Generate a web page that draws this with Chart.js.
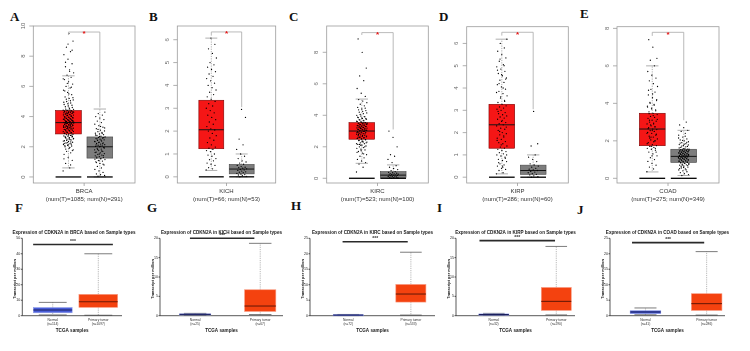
<!DOCTYPE html>
<html>
<head>
<meta charset="utf-8">
<script src="https://cdn.jsdelivr.net/npm/chart.js@4.4.0/dist/chart.umd.min.js"></script>
<style>
body{margin:0;background:#fff;width:750px;height:351px;overflow:hidden;position:relative}
canvas{position:absolute}
.lt{position:absolute;font:bold 13px "Liberation Serif","Times New Roman",serif;line-height:13px;color:#111}
</style>
</head>
<body>
<div class="lt" style="left:10px;top:10px">A</div>
<div class="lt" style="left:149px;top:10px">B</div>
<div class="lt" style="left:289px;top:10px">C</div>
<div class="lt" style="left:439px;top:10px">D</div>
<div class="lt" style="left:580px;top:7px">E</div>
<div class="lt" style="left:15px;top:201px">F</div>
<div class="lt" style="left:147px;top:201px">G</div>
<div class="lt" style="left:291px;top:199px">H</div>
<div class="lt" style="left:437px;top:201px">I</div>
<div class="lt" style="left:577px;top:203px">J</div>
<script>
// ---- top row (GEPIA) ----
const topCancers = ["BRCA", "KICH", "KIRC", "KIRP", "COAD"];
const numT = [1085, 66, 523, 286, 275];
const numN = [291, 53, 100, 60, 349];
const topTicks = [[0,2,4,6,8,10], [0,1,2,3,4,5,6], [0,2,4,6,8], [0,1,2,3,4,5,6], [0,2,4,6,8]];
// [lower whisker, q1, median, q3, upper whisker]
const tumorBox = [[0.6,2.85,3.6,4.4,6.7], [0.28,1.23,2.06,3.35,6.07], [0.95,2.48,3.0,3.53,5.03], [0.15,1.3,2.35,3.27,6.19], [0.34,1.74,2.63,3.47,6.0]];
const normalBox = [[0,1.25,2.0,2.65,4.5], [0,0.13,0.34,0.54,1.0], [0,0.06,0.2,0.42,0.85], [0,0.13,0.3,0.54,1.0], [0.15,0.85,1.17,1.55,2.56]];
// [bracket level, left end, right end]
const bracketY = [[9.6,9.4,4.6], [6.34,6.18,3.05], [9.25,9.1,3.1], [6.5,6.35,3.05], [7.79,7.6,3.1]];

const brcaT = [0.4,0.6,0.9,1.1,1.3,1.5,1.6,1.7,1.8,1.9,2.0,2.05,2.1,2.15,2.2,2.25,2.3,2.35,2.4,2.45,2.5,2.55,2.6,2.62,2.65,2.7,2.72,2.75,2.8,2.83,
2.86,2.9,2.93,2.96,3.0,3.03,3.06,3.1,3.12,3.15,3.18,3.2,3.23,3.26,3.3,3.32,3.35,3.38,3.4,3.42,3.45,3.47,3.5,3.52,3.55,3.57,3.58,3.59,3.6,3.61,
3.62,3.65,3.68,3.7,3.72,3.75,3.78,3.8,3.83,3.86,3.9,3.93,3.96,4.0,4.03,4.06,4.1,4.13,4.16,4.2,4.22,4.25,4.28,4.3,4.33,4.35,4.37,4.39,4.4,4.42,
4.45,4.5,4.6,4.7,4.8,4.9,5.0,5.1,5.2,5.3,5.45,5.6,5.75,5.9,6.0,6.15,6.3,6.45,6.6,6.75,6.9,7.1,7.3,7.5,7.8,8.1,8.3,8.6,9.0,9.5,
2.08,2.18,2.28,2.38,2.48,2.58,2.68,2.78,2.88,2.92,2.98,3.02,3.08,3.14,3.19,3.22,3.28,3.31,3.36,3.41,3.44,3.49,3.53,3.56,3.63,3.66,3.69,3.74,3.77,3.81,
3.84,3.88,3.91,3.95,3.98,4.02,4.07,4.11,4.15,4.19,4.24,4.27,4.32,4.36,4.43,4.48,4.55,4.65,4.75,4.85,4.95,5.05,5.15,5.25,5.5,5.7,5.95,6.2,6.5,1.95,
1.85,1.75,2.12,2.22,2.32,2.42,2.52,2.57,2.67,2.77,3.27,3.37,3.46,3.54,3.71,3.76,3.92,4.05,4.18,4.29,7.0,7.6,8.4,8.8,1.2,0.8];
const brcaN = [0.05,0.1,0.15,0.2,0.3,0.4,0.5,0.6,0.7,0.8,0.9,1.0,1.05,1.1,1.15,1.2,1.25,
1.3,1.35,1.4,1.45,1.5,1.55,1.6,1.65,1.7,1.75,1.8,1.85,1.9,1.95,2.0,
2.02,2.06,2.1,2.14,2.18,2.22,2.26,2.3,2.34,2.38,2.42,2.46,2.5,2.54,2.58,2.62,2.65,
2.7,2.75,2.8,2.85,2.9,2.95,3.0,3.05,3.1,3.2,3.3,3.4,3.5,3.6,3.7,3.8,3.9,4.0,4.1,4.2,4.3,
1.22,1.32,1.42,1.52,1.62,1.72,1.82,1.92,2.04,2.12,2.2,2.28,2.36,2.44,2.52,2.6,2.68,2.78,2.88,3.15,3.25,3.35,0.95,0.85,1.08,1.18];
const kichT = [0.3,0.35,0.4,0.5,0.55,0.6,0.7,0.75,0.8,0.9,0.95,1.0,1.1,1.15,1.2,1.25,1.3,1.4,1.5,1.6,1.7,1.8,1.9,2.0,2.05,2.1,2.2,2.3,2.4,2.5,
2.6,2.7,2.8,2.9,3.0,3.1,3.2,3.3,3.4,3.5,3.6,3.7,3.8,3.9,4.0,4.1,4.2,4.3,4.4,4.5,4.6,4.7,4.8,4.9,5.0,5.2,5.4,5.6,5.8,6.07];
const kichN = [0.0,0.02,0.05,0.08,0.1,0.12,0.15,0.18,0.2,0.22,0.25,0.28,0.3,0.32,0.35,0.38,0.4,0.42,0.45,0.5,0.55,0.6,0.65,0.7,0.8,0.9,1.0,1.2,1.4,1.65,2.6,2.95];
const kircT = [0.4,0.7,0.9,1.0,1.1,1.2,1.3,1.4,1.5,1.6,1.7,1.8,1.85,1.9,1.95,2.0,2.05,2.1,2.15,2.2,2.25,2.3,2.35,2.4,2.45,
2.5,2.53,2.56,2.6,2.63,2.66,2.7,2.73,2.76,2.8,2.83,2.86,2.9,2.93,2.96,3.0,
3.02,3.05,3.08,3.11,3.14,3.17,3.2,3.23,3.26,3.29,3.32,3.35,3.38,3.41,3.44,3.47,3.5,3.53,
3.56,3.6,3.65,3.7,3.75,3.8,3.85,3.9,3.95,4.0,4.1,4.2,4.3,4.4,4.5,4.6,4.7,4.8,4.9,5.0,5.2,5.4,5.7,6.2,6.5,7.0,8.0,8.85,
2.0,2.1,2.2,2.3,2.4,2.45,2.5,2.55,2.58,2.62,2.68,2.72,2.78,2.82,2.88,2.92,2.98,3.01,3.04,3.07,3.1,3.13,3.16,3.19,3.22,3.25,3.28,3.31,3.34,3.37,
3.4,3.43,3.46,3.49,3.52,3.58,3.62,3.68,3.72,3.78,3.82,3.88,3.92,4.05,4.15,4.25,4.35,4.45,1.75,1.65,1.55,2.15,2.25,2.35,2.9,3.0,3.2,3.5,3.55,2.6];
const kircN = [0.0,0.02,0.04,0.06,0.08,0.1,0.12,0.14,0.16,0.18,0.2,0.21,0.22,0.24,0.26,0.28,0.3,0.32,0.35,0.38,0.42,0.48,0.55,0.62,0.7,0.8,1.0,1.2,1.4,1.5,2.0,2.6,3.0];
const kirpT = [0.15,0.2,0.3,0.35,0.4,0.5,0.55,0.6,0.7,0.75,0.8,0.9,0.95,1.0,1.05,1.1,1.15,1.2,1.25,1.3,
1.35,1.4,1.5,1.55,1.6,1.7,1.75,1.8,1.9,1.95,2.0,2.1,2.15,2.2,2.3,2.35,
2.4,2.45,2.5,2.6,2.65,2.7,2.75,2.8,2.85,2.9,3.0,3.05,3.1,3.15,3.2,3.27,
3.35,3.45,3.55,3.65,3.75,3.85,3.95,4.05,4.15,4.25,4.35,4.45,4.55,4.65,4.75,4.85,4.95,5.05,5.2,5.35,5.5,5.65,5.8,6.0,6.19,
0.45,0.65,0.85,1.45,1.65,1.85,2.05,2.25,2.55,2.95,3.4,3.6,3.8,4.0,4.2,4.4,4.6,4.8,5.0,5.3,1.0,0.5];
const kirpN = [0.0,0.03,0.06,0.1,0.13,0.16,0.2,0.23,0.26,0.3,0.33,0.36,0.4,0.45,0.5,0.55,0.6,0.7,0.8,0.9,1.0,1.4,1.5,2.95];
const coadT = [0.35,0.5,0.6,0.7,0.8,0.9,1.0,1.1,1.2,1.3,1.4,1.5,1.55,1.6,1.65,1.7,1.74,
1.8,1.9,2.0,2.05,2.1,2.2,2.25,2.3,2.4,2.45,2.5,2.55,2.6,2.63,
2.7,2.75,2.8,2.9,2.95,3.0,3.05,3.1,3.2,3.25,3.3,3.4,3.47,
3.55,3.65,3.75,3.85,3.95,4.05,4.15,4.3,4.45,4.6,4.75,4.9,5.05,5.2,5.35,5.5,5.7,6.0,6.3,6.4,7.0,7.4,
1.6,1.7,1.85,1.95,2.15,2.35,2.55,2.65,2.75,2.85,3.15,3.35,3.45,3.6,3.7,3.8,3.9,4.0,4.2,4.5,4.7,2.0,2.2,2.4,2.9,3.1,1.4,1.2];
const coadN = [0.15,0.2,0.25,0.3,0.35,0.4,0.45,0.5,0.55,0.6,0.65,0.7,0.72,0.75,0.78,0.8,0.82,0.85,
0.87,0.9,0.92,0.95,0.97,1.0,1.02,1.04,1.06,1.08,1.1,1.12,1.14,1.16,1.17,
1.19,1.21,1.23,1.25,1.28,1.3,1.33,1.35,1.38,1.4,1.43,1.45,1.48,1.5,1.52,1.55,
1.6,1.65,1.7,1.75,1.8,1.85,1.9,1.95,2.0,2.05,2.1,2.2,2.3,2.4,2.5,2.56,2.7,2.85,3.0,
0.7,0.75,0.8,0.85,0.88,0.9,0.93,0.96,0.98,1.0,1.03,1.05,1.07,1.09,1.11,1.13,1.15,1.18,1.2,1.22,1.24,1.26,1.27,1.29,1.31,1.32,1.34,1.36,1.37,1.39,
1.41,1.42,1.44,1.46,1.47,1.49,1.51,1.53,1.56,1.58,1.62,1.68,1.72,1.78,1.82,1.88,1.92,2.02,2.15,2.25,0.62,0.68,0.58,0.52,0.45];
const tumorPts = [brcaT, kichT, kircT, kirpT, coadT];
const normalPts = [brcaN, kichN, kircN, kirpN, coadN];

// ---- bottom row (UALCAN) ----
const botNormalN = [114, 25, 72, 32, 41];
const botTumorN = [1097, 67, 533, 290, 286];
const botTicks = [[0,10,20,30,40,50], [0,5,10,15,20], [0,5,10,15,20,25], [0,5,10,15,20], [0,5,10,15,20,25]];
const botNormalBox = [[0.5,1.9,3.7,5.2,8.6], [0.1,0.2,0.35,0.45,0.6], [0.05,0.1,0.2,0.3,0.4], [0.1,0.15,0.3,0.45,0.6], [0.3,0.65,1.2,1.6,2.5]];
const botTumorBox = [[0.3,5.4,9.0,13.8,40], [0.3,1.1,2.5,6.7,18.7], [0.2,4.4,7.0,10.1,20.5], [0.2,1.37,3.7,7.3,17.9], [0.2,1.7,3.9,7.1,20.7]];
const sigY = [46, 20, 23.9, 19.4, 23.6];
const sigX = [[0.57,2.32], [0.92,1.91], [0.91,1.95], [0.77,1.98], [0.78,1.96]];

// layout
const topPos = [
  {L:33.3, R:135, T:26, B:183, lo:-0.4, hi:10},
  {L:177.3, R:275.7, T:26, B:183, lo:-0.27, hi:6.6},
  {L:326.7, R:428.3, T:26, B:183, lo:-0.3, hi:9.67},
  {L:466.7, R:568.3, T:26.7, B:183, lo:-0.26, hi:6.75},
  {L:617, R:719, T:26.7, B:183, lo:-0.25, hi:8.09}
];
const botPos = [
  {ax:22.3, end:122, lo:0.332, hi:2.52, bw:0.85, tx:78},
  {ax:160, end:283, lo:0.46, hi:2.35, bw:0.48},
  {ax:310, end:435, lo:0.39, hi:2.385, bw:0.48},
  {ax:456, end:575, lo:0.394, hi:2.3, bw:0.48},
  {ax:610, end:725, lo:0.42, hi:2.3, bw:0.5}
];
const BOT_T = 238.3, BOT_B = 315.7;
const FONT = '"Liberation Sans", Arial, sans-serif';

const jit = i => ((i * 0.618034) % 1 - 0.5) * 0.34;

function seg(ctx, x1, y1, x2, y2) {
  ctx.beginPath(); ctx.moveTo(x1, y1); ctx.lineTo(x2, y2); ctx.stroke();
}

function mk(left, top, w, h) {
  const c = document.createElement('canvas');
  c.width = w; c.height = h;
  c.style.left = left + 'px'; c.style.top = top + 'px';
  c.style.width = w + 'px'; c.style.height = h + 'px';
  document.body.appendChild(c);
  return c;
}

function topPlugin(k) {
  const cats = [[tumorBox[k], 1, '#f51616', '#7a0000'], [normalBox[k], 2, '#7d7d7d', '#454545']];
  return {
    id: 'gepia' + k,
    beforeDatasetsDraw(chart) {
      const ctx = chart.ctx, x = chart.scales.x, y = chart.scales.y;
      cats.forEach(([b, c, fill, edge]) => {
        const xl = x.getPixelForValue(c - 0.41), xr = x.getPixelForValue(c + 0.41);
        const xc = x.getPixelForValue(c), cw = (xr - xl) * 0.24;
        ctx.save();
        ctx.strokeStyle = '#9a9a9a'; ctx.lineWidth = 0.8;
        ctx.setLineDash([1.2, 1.2]);
        seg(ctx, xc, y.getPixelForValue(b[3]), xc, y.getPixelForValue(b[4]));
        seg(ctx, xc, y.getPixelForValue(b[1]), xc, y.getPixelForValue(b[0]));
        ctx.setLineDash([]);
        seg(ctx, xc - cw, y.getPixelForValue(b[4]), xc + cw, y.getPixelForValue(b[4]));
        seg(ctx, xc - cw, y.getPixelForValue(b[0]), xc + cw, y.getPixelForValue(b[0]));
        const yt = y.getPixelForValue(b[3]), yb = y.getPixelForValue(b[1]);
        ctx.fillStyle = fill; ctx.fillRect(xl, yt, xr - xl, yb - yt);
        ctx.strokeStyle = edge; ctx.lineWidth = 0.6; ctx.strokeRect(xl, yt, xr - xl, yb - yt);
        ctx.strokeStyle = '#151515'; ctx.lineWidth = 1;
        seg(ctx, xl, y.getPixelForValue(b[2]), xr, y.getPixelForValue(b[2]));
        ctx.restore();
      });
    },
    afterDraw(chart) {
      const ctx = chart.ctx, x = chart.scales.x, y = chart.scales.y, a = chart.chartArea;
      ctx.save();
      // baseline bars at zero
      ctx.strokeStyle = '#000'; ctx.lineWidth = 1.3;
      cats.forEach(([b, c]) => seg(ctx, x.getPixelForValue(c - 0.41), y.getPixelForValue(0), x.getPixelForValue(c + 0.41), y.getPixelForValue(0)));
      // frame
      ctx.strokeStyle = '#9c9c9c'; ctx.lineWidth = 0.8;
      ctx.strokeRect(a.left, a.top, a.right - a.left, a.bottom - a.top);
      // y ticks
      ctx.fillStyle = '#666'; ctx.font = '6px ' + FONT;
      ctx.textAlign = 'center'; ctx.textBaseline = 'bottom';
      topTicks[k].forEach(t => {
        const py = y.getPixelForValue(t);
        seg(ctx, a.left - 4, py, a.left, py);
        ctx.save(); ctx.translate(a.left - 7, py); ctx.rotate(-Math.PI / 2);
        ctx.fillText(String(t), 0, 0); ctx.restore();
      });
      // x tick
      const xm = x.getPixelForValue(1.5);
      seg(ctx, xm, a.bottom, xm, a.bottom + 3);
      // significance bracket
      const br = bracketY[k], x1 = x.getPixelForValue(1), x2 = x.getPixelForValue(2), yl = y.getPixelForValue(br[0]);
      ctx.strokeStyle = '#a8a8a8'; ctx.lineWidth = 0.8;
      ctx.beginPath();
      ctx.moveTo(x1, y.getPixelForValue(br[1])); ctx.lineTo(x1, yl);
      ctx.lineTo(x2, yl); ctx.lineTo(x2, y.getPixelForValue(br[2]));
      ctx.stroke();
      ctx.fillStyle = '#e61010'; ctx.font = 'bold 8px ' + FONT;
      ctx.textAlign = 'center'; ctx.textBaseline = 'middle';
      ctx.fillText('*', xm, yl + 2.2);
      // category labels
      ctx.fillStyle = '#333'; ctx.font = '6px ' + FONT;
      ctx.fillText(topCancers[k], xm, 191.5);
      ctx.fillText('(num(T)=' + numT[k] + '; num(N)=' + numN[k] + ')', xm, 199.5);
      ctx.restore();
    }
  };
}

topCancers.forEach((name, k) => {
  const p = topPos[k];
  const cl = Math.floor(p.L - 28), ch = 210, cw = Math.ceil(p.R + 4 - cl);
  const cv = mk(cl, 0, cw, ch);
  new Chart(cv, {
    type: 'scatter',
    data: {
      datasets: [
        {data: tumorPts[k].map((v, i) => ({x: 1 + jit(i), y: v})), pointRadius: 0.65, pointBackgroundColor: '#000', pointBorderWidth: 0},
        {data: normalPts[k].map((v, i) => ({x: 2 + jit(i + 7), y: v})), pointRadius: 0.65, pointBackgroundColor: '#000', pointBorderWidth: 0}
      ]
    },
    options: {
      responsive: false, animation: false, devicePixelRatio: 1, events: [],
      layout: {padding: {left: p.L - cl, top: p.T, right: cl + cw - p.R, bottom: ch - p.B}},
      plugins: {legend: {display: false}, tooltip: {enabled: false}},
      scales: {
        x: {type: 'linear', display: false, min: -0.12, max: 3.12},
        y: {type: 'linear', display: false, min: p.lo, max: p.hi}
      }
    },
    plugins: [topPlugin(k)]
  });
});

function botPlugin(k) {
  const p = botPos[k];
  const cats = [[botNormalBox[k], 1, '#4a5ed8', '#8c9ae8', '#1b1f5e'], [botTumorBox[k], 2, '#f4420f', '#f89c84', '#6e1a06']];
  return {
    id: 'ualcan' + k,
    afterDraw(chart) {
      const ctx = chart.ctx, x = chart.scales.x, y = chart.scales.y, a = chart.chartArea;
      ctx.save();
      // axes
      ctx.strokeStyle = '#111'; ctx.lineWidth = 0.7;
      seg(ctx, a.left, a.top, a.left, a.bottom);
      seg(ctx, a.left, a.bottom, a.right, a.bottom);
      ctx.fillStyle = '#222'; ctx.font = '3.6px ' + FONT;
      ctx.textAlign = 'right'; ctx.textBaseline = 'middle';
      botTicks[k].forEach(t => {
        const py = y.getPixelForValue(t);
        seg(ctx, a.left - 1.5, py, a.left, py);
        ctx.fillText(String(t), a.left - 2, py);
      });
      // boxes
      cats.forEach(([b, c, fill, edge, med]) => {
        const xl = x.getPixelForValue(c - p.bw / 2), xr = x.getPixelForValue(c + p.bw / 2);
        const xc = x.getPixelForValue(c), cw = (xr - xl) * 0.36;
        ctx.strokeStyle = '#9a9a9a'; ctx.lineWidth = 0.7; ctx.setLineDash([1.2, 1]);
        seg(ctx, xc, y.getPixelForValue(b[3]), xc, y.getPixelForValue(b[4]));
        seg(ctx, xc, y.getPixelForValue(b[1]), xc, y.getPixelForValue(b[0]));
        ctx.setLineDash([]);
        ctx.strokeStyle = '#444'; ctx.lineWidth = 0.7;
        seg(ctx, xc - cw, y.getPixelForValue(b[4]), xc + cw, y.getPixelForValue(b[4]));
        seg(ctx, xc - cw, y.getPixelForValue(b[0]), xc + cw, y.getPixelForValue(b[0]));
        const yt = y.getPixelForValue(b[3]), yb = y.getPixelForValue(b[1]);
        ctx.fillStyle = fill; ctx.fillRect(xl, yt, xr - xl, Math.max(yb - yt, 1));
        ctx.strokeStyle = edge; ctx.lineWidth = 0.6; ctx.strokeRect(xl, yt, xr - xl, Math.max(yb - yt, 1));
        ctx.strokeStyle = med; ctx.lineWidth = 1.1;
        seg(ctx, xl, y.getPixelForValue(b[2]), xr, y.getPixelForValue(b[2]));
      });
      // significance line
      const ys = y.getPixelForValue(sigY[k]);
      ctx.strokeStyle = '#2a2a2a'; ctx.lineWidth = 1.6;
      seg(ctx, x.getPixelForValue(sigX[k][0]), ys, x.getPixelForValue(sigX[k][1]), ys);
      const xm = (x.getPixelForValue(sigX[k][0]) + x.getPixelForValue(sigX[k][1])) / 2;
      ctx.fillStyle = '#333'; ctx.font = 'bold 5px ' + FONT;
      ctx.textAlign = 'center'; ctx.textBaseline = 'middle';
      ctx.fillText('***', xm, ys - 3);
      // title
      const cx = p.tx || (a.left + a.right) / 2;
      ctx.fillStyle = '#1a1a1a'; ctx.font = 'bold 4.6px ' + FONT;
      ctx.fillText('Expression of CDKN2A in ' + topCancers[k] + ' based on Sample types', cx, 232.3 - chart.canvas.offsetTop);
      // axis titles
      ctx.font = 'bold 4.6px ' + FONT;
      ctx.fillText('TCGA samples', (a.left + a.right) / 2, 331 - chart.canvas.offsetTop);
      ctx.save();
      ctx.font = 'bold 3.9px ' + FONT;
      ctx.translate(a.left - 7, (a.top + a.bottom) / 2 + 2); ctx.rotate(-Math.PI / 2);
      ctx.fillText('Transcript per million', 0, 0);
      ctx.restore();
      // category labels
      ctx.fillStyle = '#333'; ctx.font = '3.3px ' + FONT;
      const n1 = x.getPixelForValue(1), n2 = x.getPixelForValue(2);
      ctx.fillText('Normal', n1, a.bottom + 4);
      ctx.fillText('(n=' + botNormalN[k] + ')', n1, a.bottom + 8.6);
      ctx.fillText('Primary tumor', n2, a.bottom + 4);
      ctx.fillText('(n=' + botTumorN[k] + ')', n2, a.bottom + 8.6);
      ctx.restore();
    }
  };
}

botPos.forEach((p, k) => {
  const cl = Math.floor(p.ax - 26), ct = 222, ch = 116, cw = Math.ceil(p.end + 16 - cl);
  const cv = mk(cl, ct, cw, ch);
  new Chart(cv, {
    type: 'scatter',
    data: {datasets: []},
    options: {
      responsive: false, animation: false, devicePixelRatio: 1, events: [],
      layout: {padding: {left: p.ax - cl, top: BOT_T - ct, right: cl + cw - p.end, bottom: ct + ch - BOT_B}},
      plugins: {legend: {display: false}, tooltip: {enabled: false}},
      scales: {
        x: {type: 'linear', display: false, min: p.lo, max: p.hi},
        y: {type: 'linear', display: false, min: 0, max: botTicks[k][botTicks[k].length - 1]}
      }
    },
    plugins: [botPlugin(k)]
  });
});
</script>
</body>
</html>
